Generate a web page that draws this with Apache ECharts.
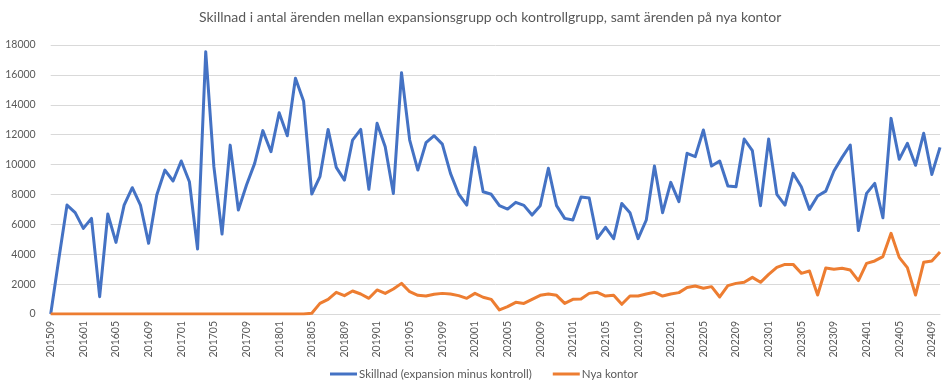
<!DOCTYPE html>
<html>
<head>
<meta charset="utf-8">
<script src="https://cdn.jsdelivr.net/npm/echarts@6/dist/echarts.min.js"></script>
<style>
html,body{margin:0;padding:0;background:#fff;}
#c{width:948px;height:387px;}
</style>
</head>
<body>
<div id="c"></div>
<script>
const titleText = 'Skillnad i antal ärenden mellan expansionsgrupp och kontrollgrupp, samt ärenden på nya kontor';
const seriesNames = ['Skillnad (expansion minus kontroll)', 'Nya kontor'];

// Monthly categories 201509 .. 202410
const categories = [
 '201509','201510','201511','201512',
 '201601','201602','201603','201604','201605','201606','201607','201608','201609','201610','201611','201612',
 '201701','201702','201703','201704','201705','201706','201707','201708','201709','201710','201711','201712',
 '201801','201802','201803','201804','201805','201806','201807','201808','201809','201810','201811','201812',
 '201901','201902','201903','201904','201905','201906','201907','201908','201909','201910','201911','201912',
 '202001','202002','202003','202004','202005','202006','202007','202008','202009','202010','202011','202012',
 '202101','202102','202103','202104','202105','202106','202107','202108','202109','202110','202111','202112',
 '202201','202202','202203','202204','202205','202206','202207','202208','202209','202210','202211','202212',
 '202301','202302','202303','202304','202305','202306','202307','202308','202309','202310','202311','202312',
 '202401','202402','202403','202404','202405','202406','202407','202408','202409','202410'
];

const skillnad = [
 0, 3700, 7290, 6780, 5730, 6400, 1160, 6690, 4790, 7290, 8450, 7290, 4730, 7960, 9630, 8900,
 10240, 8850, 4350, 17550, 9860, 5350, 11300, 6960, 8630, 10080, 12270, 10860, 13470, 11930, 15770, 14230,
 8030, 9190, 12350, 9810, 8960, 11640, 12350, 8340, 12760, 11190, 8070, 16150, 11640, 9630, 11460, 11930,
 11370, 9410, 8030, 7290, 11150, 8180, 8010, 7250, 7020, 7470, 7270, 6620, 7250, 9750, 7250, 6400,
 6290, 7830, 7760, 5060, 5800, 5040, 7400, 6780, 5040, 6290, 9900, 6780, 8810, 7520, 10750, 10530,
 12310, 9900, 10240, 8560, 8520, 11710, 10930, 7250, 11710, 8010, 7290, 9410, 8520, 7000, 7890, 8220,
 9570, 10480, 11310, 5580, 8070, 8740, 6440, 13090, 10350, 11420, 9950, 12090, 9340, 11150
];

const nyaKontor = [
 0, 0, 0, 0, 0, 0, 0, 0, 0, 0, 0, 0, 0, 0, 0, 0,
 0, 0, 0, 0, 0, 0, 0, 0, 0, 0, 0, 0, 0, 0, 0, 0,
 50, 710, 980, 1450, 1230, 1540, 1340, 1050, 1610, 1380, 1670, 2050, 1490, 1250, 1200, 1320,
 1380, 1340, 1230, 1050, 1380, 1120, 980, 270, 490, 780, 710, 980, 1250, 1340, 1250, 710,
 980, 1000, 1380, 1450, 1200, 1250, 650, 1200, 1200, 1340, 1450, 1200, 1340, 1430, 1780, 1870,
 1720, 1830, 1140, 1900, 2050, 2120, 2450, 2120, 2650, 3120, 3320, 3320, 2720, 2880, 1270, 3080,
 2990, 3060, 2940, 2230, 3390, 3550, 3840, 5400, 3790, 3100, 1270, 3460, 3550, 4150
];

const yMin = 0, yMax = 18000, yStep = 2000;

const chart = echarts.init(document.getElementById('c'), null, {renderer: 'canvas'});
const font = "Lato, 'Liberation Sans', Arial, sans-serif";
chart.setOption({
  animation: false,
  backgroundColor: '#ffffff',
  title: {
    text: titleText,
    left: 194,
    top: 5,
    textStyle: {fontFamily: font, fontSize: 14, fontWeight: 'normal', color: '#595959'}
  },
  legend: {
    bottom: 2,
    left: 325,
    itemWidth: 27,
    itemHeight: 3,
    itemGap: 21,
    icon: 'rect',
    textStyle: {fontFamily: font, fontSize: 11.5, color: '#595959', padding: [0,0,0,-3]},
    data: seriesNames
  },
  grid: {left: 50.7, right: 8, top: 45, bottom: 73, containLabel: false},
  xAxis: {
    type: 'category',
    data: categories,
    boundaryGap: false,
    axisLine: {lineStyle: {color: '#d9d9d9', width: 1}},
    axisTick: {show: false},
    axisLabel: {
      interval: 3,
      rotate: 90,
      margin: 7,
      fontFamily: font,
      fontSize: 10.5,
      color: '#595959'
    },
    splitLine: {show: false}
  },
  yAxis: {
    type: 'value',
    min: yMin,
    max: yMax,
    interval: yStep,
    axisLine: {show: false},
    axisTick: {show: false},
    axisLabel: {margin: 15, fontFamily: font, fontSize: 10.5, color: '#595959',
      formatter: function (v) { return String(v); }},
    splitLine: {lineStyle: {color: '#d9d9d9', width: 1}}
  },
  series: [
    {
      name: seriesNames[0],
      type: 'line',
      data: skillnad,
      symbol: 'none',
      lineStyle: {color: '#4472C4', width: 3, join: 'round'},
      itemStyle: {color: '#4472C4'}
    },
    {
      name: seriesNames[1],
      type: 'line',
      data: nyaKontor,
      symbol: 'none',
      lineStyle: {color: '#ED7D31', width: 3, join: 'round'},
      itemStyle: {color: '#ED7D31'}
    }
  ]
});
</script>
</body>
</html>
